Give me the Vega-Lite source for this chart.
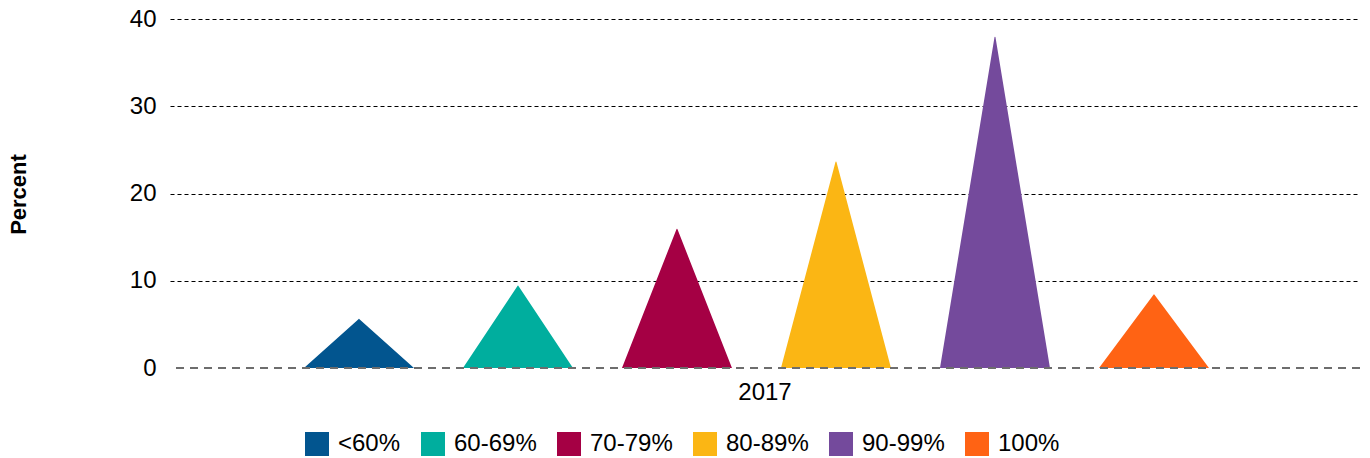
{
  "$schema": "https://vega.github.io/schema/vega-lite/v6.json",
  "width": 1190,
  "height": 349,
  "autosize": "none",
  "padding": {"left": 170, "top": 19, "right": 10, "bottom": 90},
  "background": "white",
  "config": {
    "view": {"stroke": null},
    "font": "Liberation Sans",
    "axis": {"labelFont": "Liberation Sans", "titleFont": "Liberation Sans"},
    "legend": {"labelFont": "Liberation Sans"}
  },
  "data": {
    "values": [
      {"year": "2017", "category": "<60%", "value": 5.6},
      {"year": "2017", "category": "60-69%", "value": 9.4},
      {"year": "2017", "category": "70-79%", "value": 15.9},
      {"year": "2017", "category": "80-89%", "value": 23.6},
      {"year": "2017", "category": "90-99%", "value": 37.9},
      {"year": "2017", "category": "100%", "value": 8.4}
    ]
  },
  "resolve": {"scale": {"x": "independent"}, "axis": {"x": "independent"}},
  "layer": [
    {
      "transform": [
        {"calculate": "0", "as": "zero"},
        {"fold": ["zero", "value"], "as": ["end", "y"]},
        {"calculate": "datum.end === 'zero' ? 1 : 0", "as": "w"}
      ],
      "mark": {"type": "trail", "clip": true},
      "encoding": {
        "x": {
          "field": "category",
          "type": "nominal",
          "sort": ["<60%", "60-69%", "70-79%", "80-89%", "90-99%", "100%"],
          "scale": {"type": "band", "paddingInner": 0.516, "paddingOuter": 1, "align": 0.4732},
          "axis": null
        },
        "y": {
          "field": "y",
          "type": "quantitative",
          "scale": {"domain": [0, 40]},
          "axis": {
            "title": "Percent",
            "titleFontSize": 22,
            "titleFontWeight": "bold",
            "titleColor": "#000000",
            "titleAngle": -90,
            "titleX": -152,
            "titleY": 175,
            "titleAlign": "center",
            "titleBaseline": "middle",
            "values": [0, 10, 20, 30, 40],
            "domain": false,
            "ticks": false,
            "labelFontSize": 24,
            "labelColor": "#000000",
            "labelPadding": 14,
            "grid": true,
            "gridColor": "#000000",
            "gridDash": [4, 3],
            "gridWidth": 1,
            "gridOpacity": {"expr": "datum.value === 0 ? 0 : 1"}
          }
        },
        "size": {
          "field": "w",
          "type": "quantitative",
          "scale": {"domain": [0, 1], "range": [0, 110]},
          "legend": null
        },
        "order": {"field": "w", "sort": "descending"},
        "color": {
          "field": "category",
          "type": "nominal",
          "sort": ["<60%", "60-69%", "70-79%", "80-89%", "90-99%", "100%"],
          "scale": {
            "domain": ["<60%", "60-69%", "70-79%", "80-89%", "90-99%", "100%"],
            "range": ["#02558F", "#00AE9E", "#A50044", "#FBB614", "#744A9C", "#FF6314"]
          },
          "legend": {
            "title": null,
            "orient": "none",
            "direction": "horizontal",
            "legendX": 135,
            "legendY": 413,
            "padding": 0,
            "symbolType": "square",
            "symbolSize": 576,
            "symbolOpacity": 1,
            "labelFontSize": 24,
            "labelColor": "#000000",
            "labelOffset": 9,
            "columnPadding": 20,
            "symbolOffset": 0,
            "encode": {
              "symbols": {
                "update": {
                  "fill": {"scale": "color", "field": "value"},
                  "fillOpacity": {"value": 1},
                  "strokeWidth": {"value": 0}
                }
              }
            }
          }
        }
      }
    },
    {
      "mark": {"type": "rule", "color": "#6d6d6d", "strokeWidth": 2, "strokeDash": [8, 6]},
      "encoding": {"y": {"datum": 0}}
    },
    {
      "mark": {"type": "point", "opacity": 0},
      "encoding": {
        "x": {
          "field": "year",
          "type": "nominal",
          "scale": {"type": "band", "paddingInner": 0, "paddingOuter": 0},
          "axis": {
            "title": null,
            "domain": false,
            "ticks": false,
            "grid": false,
            "labelAngle": 0,
            "labelFontSize": 24,
            "labelColor": "#000000",
            "labelPadding": 12
          }
        },
        "y": {"datum": 0}
      }
    }
  ]
}
